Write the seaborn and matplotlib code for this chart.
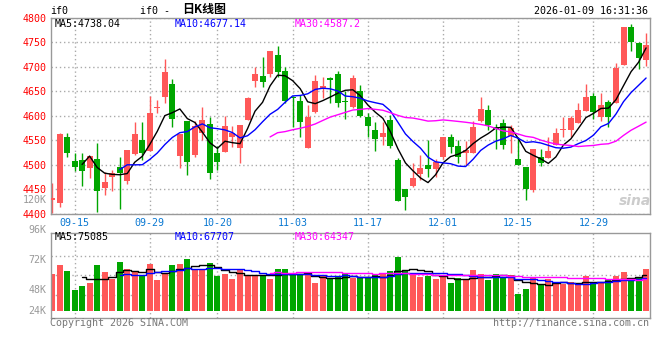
import numpy as np
import pandas as pd
import matplotlib
matplotlib.use("Agg")
import matplotlib.pyplot as plt
import seaborn as sns

# trading days shown (80 sessions)
dates = ['09-10', '09-11', '09-12', '09-15', '09-16', '09-17', '09-18', '09-19', '09-22', '09-23',
         '09-24', '09-25', '09-26', '09-29', '09-30', '10-09', '10-10', '10-13', '10-14', '10-15',
         '10-16', '10-17', '10-20', '10-21', '10-22', '10-23', '10-24', '10-27', '10-28', '10-29',
         '10-30', '10-31', '11-03', '11-04', '11-05', '11-06', '11-07', '11-10', '11-11', '11-12',
         '11-13', '11-14', '11-17', '11-18', '11-19', '11-20', '11-21', '11-24', '11-25', '11-26',
         '11-27', '11-28', '12-01', '12-02', '12-03', '12-04', '12-05', '12-08', '12-09', '12-10',
         '12-11', '12-12', '12-15', '12-16', '12-17', '12-18', '12-19', '12-22', '12-23', '12-24',
         '12-25', '12-26', '12-29', '12-30', '12-31', '01-05', '01-06', '01-07', '01-08', '01-09']

opens = [4429, 4423, 4557.5, 4508.5, 4509.9, 4492.9, 4511.9, 4453.5, 4474.5, 4496.3,
         4467, 4521.5, 4550.7, 4528.9, 4615, 4639.1, 4665, 4518.7, 4589.5, 4520,
         4564.3, 4583.3, 4524.9, 4526.9, 4557.5, 4533.7, 4591.5, 4671.7, 4681.3, 4684.7,
         4724.1, 4691.5, 4637.7, 4630.3, 4535.1, 4608.5, 4654.1, 4676.5, 4685.3, 4630.3,
         4617.3, 4650.7, 4598.3, 4571.1, 4557.5, 4591.4, 4509.8, 4450.6, 4456.8, 4481.2,
         4499.6, 4491.4, 4516.6, 4557.4, 4538.4, 4523.4, 4524.8, 4589.5, 4611.9, 4576.5,
         4584.7, 4559.5, 4511.9, 4494.9, 4448.7, 4516.7, 4513.3, 4540.5, 4570.6, 4571.1,
         4586.1, 4610.5, 4640.5, 4596.9, 4628.2, 4626.9, 4703.7, 4780.5, 4747.9, 4713.9]

closes = [4432, 4563, 4523.5, 4496.3, 4488.1, 4518.1, 4447.3, 4465, 4484, 4484.1,
          4530.3, 4562.9, 4524.9, 4605.1, 4618.7, 4690.1, 4592.9, 4563, 4506.5, 4579.3,
          4591.5, 4484.1, 4506.5, 4579.3, 4564.3, 4581.3, 4637.1, 4685.3, 4669.7, 4732.3,
          4690.1, 4630.9, 4635.7, 4588.1, 4598.3, 4671.1, 4661.5, 4672.5, 4626.9, 4628.2,
          4676.5, 4599.7, 4579.3, 4552.7, 4565.7, 4539, 4426.8, 4435, 4472.4, 4492.8,
          4491.4, 4506.4, 4557.4, 4535.6, 4516.6, 4530.2, 4576.4, 4613.9, 4581.3, 4572.5,
          4540.5, 4574.5, 4499.7, 4450.1, 4531.7, 4504.5, 4528.3, 4565.7, 4571.3, 4594.9,
          4611.9, 4637.7, 4608.5, 4622.1, 4598.3, 4698.3, 4780.5, 4750.6, 4718.7, 4744.5]

highs = [4463, 4564, 4565.7, 4524.9, 4524.9, 4518.1, 4543.9, 4486, 4489.5, 4515.5,
         4531, 4588, 4588, 4640.5, 4632.3, 4715.9, 4675, 4563, 4589.5, 4590,
         4618.7, 4596.9, 4538.5, 4599.7, 4579.3, 4581.3, 4638, 4698.9, 4720.7, 4733,
         4742.5, 4700.3, 4640.5, 4642.5, 4622.1, 4683.3, 4679.9, 4679.9, 4692.1, 4651.3,
         4683.3, 4662.9, 4605.1, 4588.1, 4588.1, 4601.6, 4513.2, 4450.8, 4504.4, 4520,
         4550.6, 4511.2, 4557.4, 4562.2, 4550.6, 4549.2, 4590, 4637.7, 4622.1, 4582.7,
         4592.9, 4581.3, 4557.5, 4494.9, 4531.7, 4531.7, 4557.5, 4574.5, 4598.3, 4599.7,
         4625.5, 4664.9, 4647.3, 4647.3, 4632.3, 4707.1, 4781.9, 4787.3, 4750, 4769.7]

lows = [4402, 4414, 4516.7, 4488, 4457.5, 4472.5, 4404, 4438, 4447.5, 4409,
        4460, 4520, 4510, 4528, 4606.5, 4626.9, 4576.5, 4493, 4479.3, 4515,
        4550.7, 4470.5, 4489.5, 4527, 4537, 4504.5, 4591, 4659.5, 4659.5, 4679.9,
        4678.5, 4625.5, 4577.9, 4557.5, 4535, 4605.1, 4637.1, 4625.5, 4618.7, 4592.9,
        4615.3, 4598.3, 4557.5, 4528.9, 4540, 4533.6, 4426.8, 4407.8, 4454, 4469,
        4474.4, 4475.8, 4511.2, 4523.4, 4503, 4499.6, 4524, 4588.1, 4571.1, 4531.7,
        4532.3, 4524.9, 4499.7, 4428.3, 4445.3, 4497.7, 4513, 4540, 4557.5, 4557.5,
        4584.7, 4610, 4593.5, 4589.5, 4577.9, 4626, 4703, 4732.3, 4694.9, 4701.7]

# volume in thousands of contracts
volumes_k = [75.4, 93.9, 81.6, 42.5, 50.8, 56.9, 93.9, 79.5, 65.1, 100.1,
             85.7, 79.5, 73.4, 96.0, 63.1, 78.1, 93.9, 96.0, 106.2, 85.7,
             85.7, 98.0, 71.9, 75.4, 65.1, 83.6, 73.4, 71.3, 71.3, 65.1,
             85.7, 85.7, 73.4, 73.4, 73.4, 56.9, 71.3, 66.8, 71.3, 76.9,
             67.8, 67.8, 67.8, 74.8, 74.8, 81.6, 111.0, 82.2, 76.9, 69.9,
             71.9, 65.1, 69.9, 57.5, 67.8, 63.1, 83.6, 75.4, 63.1, 75.4,
             69.9, 73.4, 34.3, 44.6, 66.6, 52.8, 64.5, 56.3, 54.3, 59.0,
             54.3, 71.9, 56.3, 57.5, 64.5, 71.9, 80.1, 67.8, 68.6, 85.0]

tick_dates = ['09-15', '09-29', '10-20', '11-03', '11-17', '12-01', '12-15', '12-29']
price_ticks = [4400, 4450, 4500, 4550, 4600, 4650, 4700, 4750, 4800]
vol_tick_labels = ['120K', '96K', '72K', '48K', '24K']
ma_price_text = ['MA5:4738.04', 'MA10:4677.14', 'MA30:4587.2']
ma_vol_text = ['MA5:75085', 'MA10:67707', 'MA30:64347']

df = pd.DataFrame({'date': dates, 'open': opens, 'high': highs, 'low': lows,
                   'close': closes, 'vol': np.array(volumes_k) * 1000})
df['x'] = np.arange(len(df))
df['up'] = df['close'] >= df['open']
for n in (5, 10, 30):
    df[f'ma{n}'] = df['close'].rolling(n).mean()
    df[f'vma{n}'] = df['vol'].rolling(n).mean()

RED = '#ff5858'
GREEN = '#00a600'
GRID = '#aaaaaa'
SPINE = '#999999'
MA_COLORS = ['black', '#0000ff', '#ff00ff']

sns.set_theme(style='white')
plt.rcParams['font.family'] = ['DejaVu Sans Mono', 'Noto Sans CJK SC']
FS = 7.2

fig = plt.figure(figsize=(6.6, 3.6), dpi=100)
ax = fig.add_axes([51 / 660, 1 - 213.8 / 360, 599 / 660, 196 / 360])
axv = fig.add_axes([51 / 660, 1 - 318.3 / 360, 599 / 660, 85.3 / 360])

tick_idx = [dates.index(d) for d in tick_dates]
xlim = (-0.133, 79.52)

# --- price panel ---
colors = np.where(df['up'], RED, GREEN)
ax.vlines(df['x'], df['low'], df['high'], colors=colors, lw=1, zorder=2)
body_lo = np.minimum(df['open'], df['close'])
body_h = np.maximum(np.abs(df['close'] - df['open']), 1.6)
ax.bar(df['x'], body_h, bottom=body_lo, width=0.8, color=colors, linewidth=0, zorder=3)

for n, c in zip((5, 10, 30), MA_COLORS):
    sns.lineplot(x=df['x'], y=df[f'ma{n}'], ax=ax, color=c, lw=1, zorder=4)

ax.set_xlim(*xlim)
ax.set_ylim(4400, 4800)
ax.set_yticks(price_ticks)
ax.set_xticks(tick_idx)
ax.set_xticklabels(tick_dates)
ax.set_xlabel('')
ax.set_ylabel('')
ax.tick_params(axis='y', length=0, pad=3.2, labelsize=FS, labelcolor='#ff0000')
ax.tick_params(axis='x', length=0, pad=3.0, labelsize=FS, labelcolor='#0a78d2')
ax.grid(True, color=GRID, ls=(0, (1, 2)), lw=1, zorder=0)
for s in ax.spines.values():
    s.set_color(SPINE)
    s.set_linewidth(1)

for txt, c, xp in zip(ma_price_text, MA_COLORS, (0.0067, 0.207, 0.407)):
    ax.text(xp, 0.968, txt, transform=ax.transAxes, color=c, fontsize=FS,
            va='center', ha='left', zorder=5)

# --- volume panel ---
vcolors = np.where(df['up'], RED, GREEN)
axv.bar(df['x'], df['vol'], width=0.8, color=vcolors, linewidth=0, zorder=2)
for n, c in zip((5, 10, 30), MA_COLORS):
    sns.lineplot(x=df['x'], y=df[f'vma{n}'], ax=axv, color=c, lw=1,
                 drawstyle='steps-mid', zorder=4)
axv.set_xlim(*xlim)
axv.set_ylim(-15000, 159700)
axv.set_xticks(tick_idx)
axv.set_yticks([])
axv.set_xlabel('')
axv.set_ylabel('')
axv.tick_params(axis='x', length=0, labelbottom=False)
axv.grid(True, axis='x', color=GRID, ls=(0, (1, 2)), lw=1, zorder=0)
vlo, vhi = axv.get_ylim()
for f in (0.27, 0.505, 0.735):
    axv.axhline(vlo + f * (vhi - vlo), color=GRID, ls=(0, (1, 2)), lw=1, zorder=0)
for s in axv.spines.values():
    s.set_color(SPINE)
    s.set_linewidth(1)

for txt, c, xp in zip(ma_vol_text, MA_COLORS, (0.0067, 0.207, 0.407)):
    axv.text(xp, 0.95, txt, transform=axv.transAxes, color=c, fontsize=FS,
             va='center', ha='left', zorder=5)

for lab, fy in zip(vol_tick_labels, (1.387, 1.035, 0.678, 0.326, 0.091)):
    axv.text(-0.0075, fy, lab, transform=axv.transAxes, color='#999999',
             fontsize=FS, ha='right', va='center')

# --- header / footer ---
fig.text(50.5 / 660, 1 - 11.5 / 360, 'if0', fontsize=FS, color='black', va='center')
fig.text(140 / 660, 1 - 10.5 / 360, 'if0 -', fontsize=FS, color='black', va='center')
fig.text(182 / 660, 1 - 9.5 / 360, '日K线图', fontsize=8.6, fontweight='bold',
         family=['Noto Sans CJK SC', 'DejaVu Sans'], color='black', va='center')
fig.text(648.5 / 660, 1 - 11.5 / 360, '2026-01-09 16:31:36', fontsize=FS,
         color='black', va='center', ha='right')
fig.text(50 / 660, 1 - 323.5 / 360, 'Copyright 2026 SINA.COM', fontsize=FS,
         color='#777777', va='center')
fig.text(649.5 / 660, 1 - 323.5 / 360, 'http://finance.sina.com.cn', fontsize=FS,
         color='#777777', va='center', ha='right')
fig.text(635 / 660, 1 - 201 / 360, 'sina', fontsize=10, color='#cccccc',
         style='italic', fontweight='bold', family=['DejaVu Sans'],
         ha='center', va='center')

fig.savefig('out.png', dpi=100)
